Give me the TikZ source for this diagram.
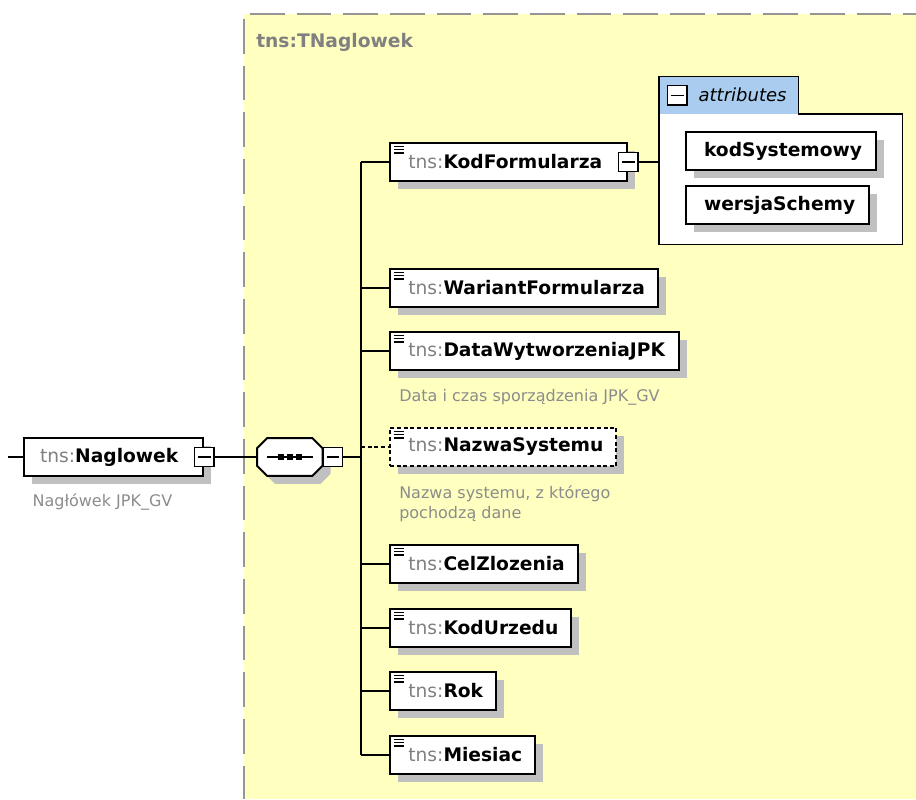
\documentclass[tikz,border=0pt]{standalone}
\usepackage{fontspec}
\setmainfont{DejaVu Sans}
\usetikzlibrary{shadows,positioning}

\definecolor{typeyellow}{RGB}{255,255,192}
\definecolor{framegray}{RGB}{150,150,150}
\definecolor{tnsgray}{RGB}{128,128,128}
\definecolor{notegray}{RGB}{140,140,140}
\definecolor{shadowgray}{RGB}{192,192,192}
\definecolor{tabblue}{RGB}{170,204,238}

\newcommand{\tnsname}[1]{{\color{tnsgray}tns:}\textbf{#1}}

\tikzset{
  conn/.style={line width=1.2pt},
  flatshadow/.style={general shadow={fill=shadowgray, shadow xshift=6pt, shadow yshift=-6pt}},
  box/.style={draw, fill=white, line width=1.5pt, font=\fontsize{14}{17}\selectfont,
    minimum height=28.5pt, inner ysep=0pt, flatshadow},
  rootel/.style={box, inner xsep=12pt, execute at end node=\hspace*{6.5pt}},
  elem/.style={box, inner xsep=9.75pt, execute at begin node=\hspace*{4pt},
    path picture={\draw[solid, line width=1.1pt] foreach \dy in {2.5,5,7.5}
      {([xshift=2.8pt,yshift=-\dy pt]path picture bounding box.north west) -- ++(7.5pt,0)};}},
  optelem/.style={elem, dash pattern=on 3pt off 2pt},
  attrel/.style={box, inner xsep=10.5pt, execute at begin node=\hspace*{3pt}, font=\fontsize{14}{17}\selectfont\bfseries},
  minus/.style={draw, fill=white, line width=1pt, minimum size=14.5pt, inner sep=0pt,
    path picture={\draw[line width=1pt] ([xshift=2.5pt]path picture bounding box.west)
      -- ([xshift=-2.5pt]path picture bounding box.east);}},
  note/.style={text=notegray, font=\fontsize{12}{15}\selectfont, inner sep=0pt, align=left},
  border/.style={framegray, line width=1.5pt, dash pattern=on 26pt off 9pt}
}

\begin{document}
\begin{tikzpicture}[x=0.75pt, y=-0.75pt]
  \useasboundingbox (0,0) rectangle (916,799);

  % complex type area
  \fill[typeyellow] (244,14) rectangle (916,799);
  \draw[border] (250,14) -- (916,14);
  \draw[border] (244,19) -- (244,799);
  \node[anchor=west, inner sep=0pt, text=tnsgray, font=\fontsize{14}{17}\selectfont\bfseries] (tname) at (256,42) {tns:TNaglowek};

  % root element
  \coordinate (in) at (8,457);
  \node[rootel, anchor=west] (nag) at (23,457) {\tnsname{Naglowek}};
  \node[minus] (nagm) at (nag.east) {};
  \node[note, anchor=north west] (nagn) at ([xshift=7pt,yshift=-12pt]nag.south west) {Nagłówek JPK\_GV};

  % sequence
  \node[minimum width=48.75pt, minimum height=27.75pt, inner sep=0pt, anchor=west] (seq) at (257,457) {};
  \draw[fill=white, line width=1.5pt, flatshadow]
    ([xshift=7.5pt]seq.north west) -- ([xshift=-7.5pt]seq.north east)
    -- ([yshift=-7.5pt]seq.north east) -- ([yshift=7.5pt]seq.south east)
    -- ([xshift=-7.5pt]seq.south east) -- ([xshift=7.5pt]seq.south west)
    -- ([yshift=7.5pt]seq.south west) -- ([yshift=-7.5pt]seq.north west) -- cycle;
  \node[minus, anchor=west] (seqm) at (seq.east) {};
  \draw[line width=1.1pt] ([xshift=7.5pt]seq.west) -- ([xshift=-7pt]seq.east);
  \foreach \dx in {-6.75,0,6.75}
    \fill ([xshift=\dx pt]seq.center) +(-2.25pt,-2.25pt) rectangle +(2.25pt,2.25pt);
  \coordinate (bus) at (361,457);

  % children
  \node[elem, anchor=west] (kod) at (389,162) {\tnsname{KodFormularza}\hspace*{9pt}};
  \node[minus] (kodm) at (kod.east) {};
  \node[elem, anchor=west] (war) at (389,288) {\tnsname{WariantFormularza}};
  \node[elem, anchor=west] (data) at (389,351) {\tnsname{DataWytworzeniaJPK}};
  \node[note, anchor=north west] (datan) at ([xshift=7.5pt,yshift=-13.5pt]data.south west) {Data i czas sporządzenia JPK\_GV};
  \node[optelem, anchor=west] (nazwa) at (389,447) {\tnsname{NazwaSystemu}};
  \node[note, anchor=north west] (nazwan) at ([xshift=7.5pt,yshift=-13.5pt]nazwa.south west) {Nazwa systemu, z którego\\pochodzą dane};
  \node[elem, anchor=west] (cel) at (389,564) {\tnsname{CelZlozenia}};
  \node[elem, anchor=west] (urz) at (389,628) {\tnsname{KodUrzedu}};
  \node[elem, anchor=west] (rok) at (389,691) {\tnsname{Rok}};
  \node[elem, anchor=west] (mies) at (389,755) {\tnsname{Miesiac}};

  % attributes
  \node[fill=white, minimum width=182.25pt, minimum height=97.5pt, anchor=north west] (abox) at (659,114) {};
  \node[fill=tabblue, minimum width=104.25pt, minimum height=27.75pt, anchor=south west] (atab) at (abox.north west) {};
  \draw[line width=1.2pt] (abox.south west) |- (atab.north east) -- (atab.south east)
    -- (abox.north east) -- (abox.south east) -- cycle;
  \node[minus, anchor=west] (atabm) at ([xshift=6pt]atab.west) {};
  \node[anchor=west, inner sep=0pt, font=\fontsize{13.5}{16}\selectfont\itshape] (atabt) at ([xshift=8pt]atabm.east) {attributes};
  \node[attrel, anchor=north west] (ksys) at (685,131) {kodSystemowy};
  \node[attrel, anchor=north west] (wsch) at (685,185) {wersjaSchemy};

  % connectors
  \draw[conn] (in) -- (nag.west);
  \draw[conn] (nagm.east) -- (seq.west);
  \draw[conn] (seqm.east) -- (bus);
  \draw[conn] (bus |- kod.west) -- (bus |- mies.west);
  \foreach \n in {kod,war,data,cel,urz,rok,mies}
    \draw[conn] (bus |- \n.west) -- (\n.west);
  \draw[conn, dash pattern=on 3pt off 2pt] (bus |- nazwa.west) -- (nazwa.west);
  \draw[conn] (kodm.east) -- (kodm.east -| abox.west);
\end{tikzpicture}
\end{document}
